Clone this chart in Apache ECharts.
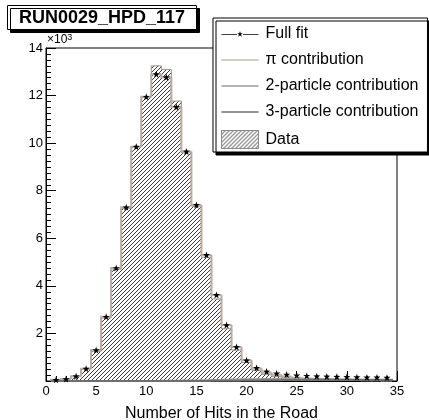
<!DOCTYPE html>
<html>
<head>
<meta charset="utf-8">
<script src="https://cdn.jsdelivr.net/npm/echarts@6/dist/echarts.min.js"></script>
<style>
  html, body { margin: 0; padding: 0; background: #fff; }
  #chart { width: 429px; height: 420px; }
</style>
</head>
<body>
<div id="chart"></div>
<script>
// bins of the histogram (number of hits, bin centres)
const bins = [1, 2, 3, 4, 5, 6, 7, 8, 9, 10, 11, 12, 13, 14, 15, 16, 17,
  18, 19, 20, 21, 22, 23, 24, 25, 26, 27, 28, 29, 30, 31, 32, 33, 34];
// data counts (hatched histogram)
const dataCounts = [30, 80, 200, 500, 1250, 2650, 4700, 7250, 9850, 11950, 13250, 13100,
  11770, 9600, 7350, 5200, 3450, 2200, 1300, 780, 450, 280, 180, 130, 100, 80,
  70, 60, 55, 50, 45, 40, 40, 35];
// full fit (stars)
const fullFit = [50, 80, 200, 520, 1300, 2700, 4750, 7300, 9850, 11950, 12900, 12770,
  11520, 9650, 7400, 5300, 3620, 2350, 1430, 870, 550, 400, 320, 270, 240, 220,
  200, 190, 180, 170, 160, 150, 150, 140];
// pi contribution
const piContrib = [50, 80, 200, 520, 1300, 2700, 4750, 7300, 9850, 11950, 12900, 12770,
  11520, 9650, 7400, 5300, 3620, 2350, 1430, 870, 530, 360, 260, 190, 140, 110,
  90, 70, 60, 50, 40, 35, 30, 25];
// 2-particle contribution
const twoParticle = [0, 0, 0, 0, 0, 0, 0, 0, 0, 0, 5, 10, 15, 20, 25, 30, 40, 50, 60, 70,
  75, 80, 80, 80, 80, 75, 70, 70, 65, 60, 60, 55, 50, 50];
// 3-particle contribution
const threeParticle = [0, 0, 0, 0, 0, 0, 0, 0, 0, 0, 0, 0, 0, 0, 0, 5, 8, 10, 15, 20,
  25, 30, 35, 40, 40, 40, 45, 45, 45, 45, 45, 45, 45, 45];

const FONT = '"Liberation Sans", Arial, Helvetica, sans-serif';
const starPath = 'path://M0,-10 L2.35,-3.24 L9.51,-3.09 L3.8,1.24 L5.88,8.09 L0,4 L-5.88,8.09 L-3.8,1.24 L-9.51,-3.09 L-2.35,-3.24 Z';
// legend icon: a line with a small star in the middle
const fitIcon = 'path://M0,3.4 L15.5,3.4 L15.5,2.6 L0,2.6 Z M21.5,3.4 L37,3.4 L37,2.6 L21.5,2.6 Z ' +
  'M18.5,0 L19.2,2.0 L21.3,2.0 L19.6,3.3 L20.3,5.4 L18.5,4.1 L16.7,5.4 L17.4,3.3 L15.7,2.0 L17.8,2.0 Z';
const lineIcon = 'path://M0,0 L37,0 L37,1.5 L0,1.5 Z';

// hatch pattern "////"
function makeHatch() {
  const c = document.createElement('canvas');
  c.width = 4; c.height = 4;
  const ctx = c.getContext('2d');
  ctx.fillStyle = '#fff';
  ctx.fillRect(0, 0, 4, 4);
  ctx.fillStyle = '#3a3a3a';
  for (let i = 0; i < 4; i++) ctx.fillRect(i, 3 - i, 1, 1);
  return c;
}
const hatch = { image: makeHatch(), repeat: 'repeat' };

function pairs(vals) {
  return bins.map((b, i) => [b, vals[i]]);
}

// histogram outline drawn bin by bin
function stepRenderer(vals, color, width, filled) {
  return function (params, api) {
    const i = params.dataIndex;
    const x = api.value(0), y = api.value(1);
    const prev = i > 0 ? vals[i - 1] : 0;
    const tl = api.coord([x - 0.5, y]);
    const br = api.coord([x + 0.5, 0]);
    const pp = api.coord([x - 0.5, prev]);
    const pts = [pp, tl, [br[0], tl[1]]];
    if (i === vals.length - 1) pts.push(br);
    const children = [];
    if (filled) {
      children.push({
        type: 'rect',
        shape: { x: tl[0], y: tl[1], width: br[0] - tl[0] + 0.6, height: br[1] - tl[1] },
        style: { fill: hatch }
      });
    }
    children.push({
      type: 'polyline',
      shape: { points: pts },
      style: { stroke: color, lineWidth: width, fill: null }
    });
    return { type: 'group', children: children };
  };
}

const chart = echarts.init(document.getElementById('chart'));
chart.setOption({
  animation: false,
  title: {
    text: 'RUN0029_HPD_117',
    left: 7, top: 5,
    padding: [4, 12, 3, 12],
    backgroundColor: '#fff',
    borderColor: '#000', borderWidth: 1,
    shadowColor: '#000', shadowBlur: 0, shadowOffsetX: 3, shadowOffsetY: 3,
    textStyle: { fontFamily: FONT, fontSize: 18, fontWeight: 'bold', color: '#000' }
  },
  legend: {
    orient: 'vertical',
    left: 213, top: 18,
    padding: [8, 9, 3, 8],
    itemWidth: 37, itemHeight: 18, itemGap: 10,
    backgroundColor: '#fff',
    borderColor: '#000', borderWidth: 1,
    shadowColor: '#000', shadowBlur: 0, shadowOffsetX: 3, shadowOffsetY: 3,
    selectedMode: false,
    textStyle: { fontFamily: FONT, fontSize: 16, color: '#000', padding: [0, 0, 0, 2] },
    data: [
      { name: 'Full fit', icon: fitIcon, itemStyle: { color: '#000', borderWidth: 0 } },
      { name: 'π contribution', icon: lineIcon, itemStyle: { color: '#c9bab0', borderWidth: 0 } },
      { name: '2-particle contribution', icon: lineIcon, itemStyle: { color: '#9a9a9a', borderWidth: 0 } },
      { name: '3-particle contribution', icon: lineIcon, itemStyle: { color: '#6e6e6e', borderWidth: 0 } },
      { name: 'Data', icon: 'rect', itemStyle: { color: hatch, borderColor: '#888', borderWidth: 1 } }
    ]
  },
  graphic: [
    {
      type: 'text', left: 47, top: 33, z: 10,
      style: {
        text: '{a|×10}{b|3}',
        rich: {
          a: { fontFamily: FONT, fontSize: 12, lineHeight: 14, fill: '#000' },
          b: { fontFamily: FONT, fontSize: 9, lineHeight: 14, fill: '#000', verticalAlign: 'top' }
        }
      }
    }
  ],
  grid: {
    left: 46, right: 32, top: 48, bottom: 39,
    outerBoundsMode: 'none', containLabel: false,
    show: true, borderColor: '#000', borderWidth: 1, backgroundColor: 'transparent'
  },
  xAxis: {
    type: 'value', min: 0, max: 35, interval: 5,
    name: 'Number of Hits in the Road',
    nameLocation: 'middle', nameGap: 25,
    nameTextStyle: { fontFamily: FONT, fontSize: 16, color: '#000' },
    axisLine: { lineStyle: { color: '#000', width: 1 } },
    axisTick: { inside: true, length: 10, lineStyle: { color: '#000' } },
    minorTick: { show: true, splitNumber: 5, length: 5, lineStyle: { color: '#000' } },
    axisLabel: { margin: 4, fontFamily: FONT, fontSize: 13, color: '#000' },
    splitLine: { show: false }
  },
  yAxis: {
    type: 'value', min: 0, max: 14000, interval: 2000,
    axisLine: { lineStyle: { color: '#000', width: 1 } },
    axisTick: { inside: true, length: 10, lineStyle: { color: '#000' } },
    minorTick: { show: true, splitNumber: 8, length: 5, lineStyle: { color: '#000' } },
    axisLabel: {
      margin: 3, fontFamily: FONT, fontSize: 13, color: '#000',
      formatter: function (v) { return v === 0 ? '' : String(v / 1000); }
    },
    splitLine: { show: false }
  },
  series: [
    {
      name: 'Data', type: 'custom', z: 2,
      itemStyle: { color: hatch },
      renderItem: stepRenderer(dataCounts, '#a0948c', 1, true),
      data: pairs(dataCounts)
    },
    {
      name: 'π contribution', type: 'custom', z: 3,
      itemStyle: { color: '#c9bab0' },
      renderItem: stepRenderer(piContrib, '#b9aba1', 2, false),
      data: pairs(piContrib)
    },
    {
      name: '2-particle contribution', type: 'custom', z: 3,
      itemStyle: { color: '#9a9a9a' },
      renderItem: stepRenderer(twoParticle, '#9a9a9a', 2, false),
      data: pairs(twoParticle)
    },
    {
      name: '3-particle contribution', type: 'custom', z: 3,
      itemStyle: { color: '#6e6e6e' },
      renderItem: stepRenderer(threeParticle, '#6e6e6e', 2, false),
      data: pairs(threeParticle)
    },
    {
      name: 'Full fit', type: 'line', z: 5,
      symbol: starPath, symbolSize: 7, showSymbol: true,
      itemStyle: { color: '#000' },
      lineStyle: { width: 0, opacity: 0 },
      data: pairs(fullFit)
    }
  ]
});
</script>
</body>
</html>
